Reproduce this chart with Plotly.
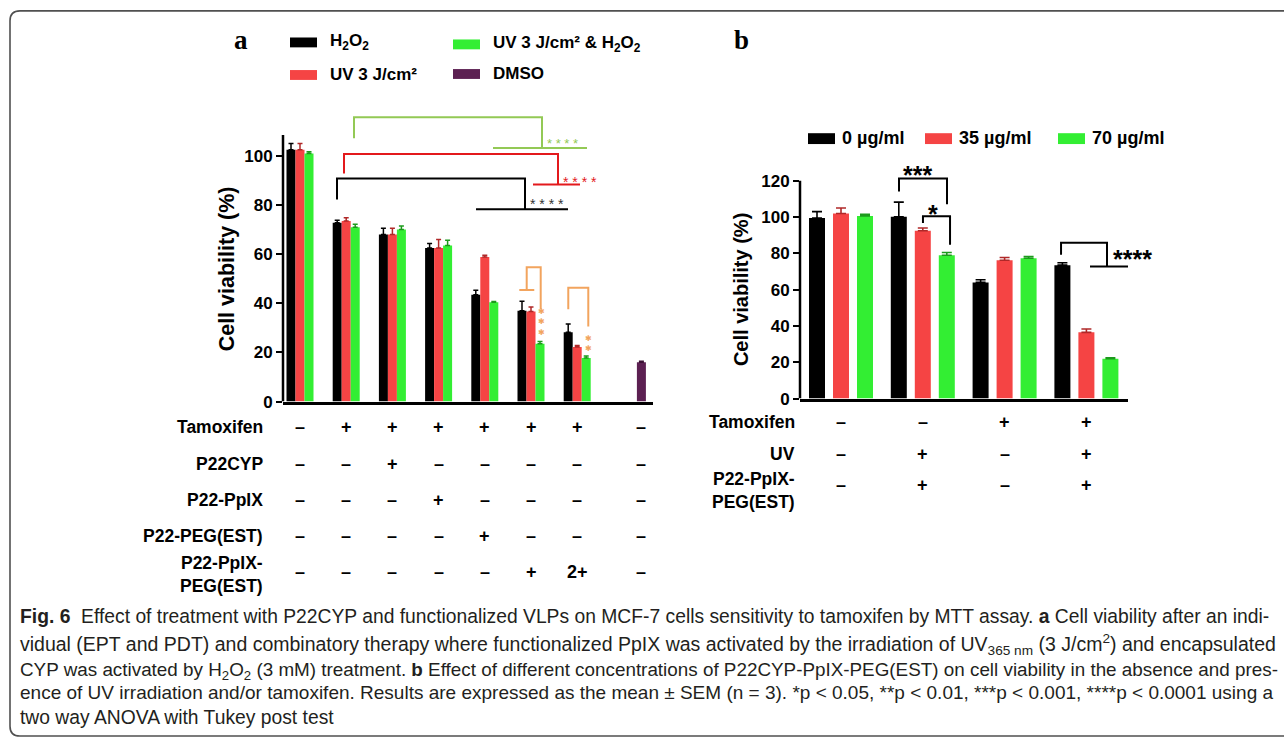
import plotly.graph_objects as go

W, H = 1284, 749

# ---------------- Panel a data ----------------
a_groups = [1, 2, 3, 4, 5, 6, 7]
a_dmso_group = [8]
a_h2o2 = [102.5, 72.8, 68.0, 62.5, 43.5, 37.0, 28.2]
a_h2o2_err = [2.5, 1.0, 2.5, 1.8, 1.8, 3.8, 3.4]
a_uv = [102.5, 73.5, 68.0, 62.5, 58.8, 36.7, 22.2]
a_uv_err = [2.5, 1.3, 2.5, 3.5, 0.8, 1.8, 0.6]
a_uv_h2o2 = [101.0, 71.0, 70.0, 63.5, 40.4, 23.5, 17.7]
a_uv_h2o2_err = [0.7, 1.2, 1.5, 2.2, 0.3, 1.0, 0.8]
a_dmso = [16.0]
a_dmso_err = [0.4]
a_yticks = [0, 20, 40, 60, 80, 100]
a_legend = ["H<sub>2</sub>O<sub>2</sub>", "UV 3 J/cm²",
            "UV 3 J/cm² & H<sub>2</sub>O<sub>2</sub>", "DMSO"]
a_row_labels = ["Tamoxifen", "P22CYP", "P22-PpIX", "P22-PEG(EST)", "P22-PpIX-<br>PEG(EST)"]
a_table = [
    ["–", "+", "+", "+", "+", "+", "+", "–"],
    ["–", "–", "+", "–", "–", "–", "–", "–"],
    ["–", "–", "–", "+", "–", "–", "–", "–"],
    ["–", "–", "–", "–", "+", "–", "–", "–"],
    ["–", "–", "–", "–", "–", "+", "2+", "–"],
]

# ---------------- Panel b data ----------------
b_groups = [1, 2, 3, 4]
b_0 = [99.5, 100.2, 64.0, 73.5]
b_0_err = [3.5, 8.0, 1.5, 1.3]
b_35 = [102.0, 92.5, 76.2, 36.5]
b_35_err = [3.0, 1.5, 1.5, 1.8]
b_70 = [100.6, 79.0, 77.3, 22.0]
b_70_err = [0.9, 1.5, 1.0, 0.5]
b_yticks = [0, 20, 40, 60, 80, 100, 120]
b_legend = ["0 µg/ml", "35 µg/ml", "70 µg/ml"]
b_row_labels = ["Tamoxifen", "UV", "P22-PpIX-<br>PEG(EST)"]
b_table = [
    ["–", "–", "+", "+"],
    ["–", "+", "–", "+"],
    ["–", "+", "–", "+"],
]

caption_lines = [
    "<b>Fig. 6</b>\u00a0 Effect of treatment with P22CYP and functionalized VLPs on MCF-7 cells sensitivity to tamoxifen by MTT assay. <b>a</b> Cell viability after an indi-",
    "vidual (EPT and PDT) and combinatory therapy where functionalized PpIX was activated by the irradiation of UV<sub>365 nm</sub> (3 J/cm<sup>2</sup>) and encapsulated",
    "CYP was activated by H<sub>2</sub>O<sub>2</sub> (3 mM) treatment. <b>b</b> Effect of different concentrations of P22CYP-PpIX-PEG(EST) on cell viability in the absence and pres-",
    "ence of UV irradiation and/or tamoxifen. Results are expressed as the mean ± SEM (n = 3). *p &lt; 0.05, **p &lt; 0.01, ***p &lt; 0.001, ****p &lt; 0.0001 using a",
    "two way ANOVA with Tukey post test",
]

# ---------------- styles ----------------
BLACK = "#000000"
RED = "#f54444"
GREEN = "#33ee33"
PURPLE = "#5c2052"
ERR = ["#000000", "#b02828", "#1c9a1c", "#3a1034"]
LGREEN = "#93c955"
BRED = "#e3191c"
ORANGE = "#f2a45e"
SANS = "Liberation Sans, Arial, sans-serif"
SERIF = "Liberation Serif, Times New Roman, serif"
CAPFONT = "Liberation Sans, Arial, sans-serif"


def px(x):
    return x / W


def py(y):
    return 1 - y / H


# axis geometry (pixels)
A_X0, A_DX, A_LEFT, A_RIGHT = 300.0, 46.2, 283.0, 653.0
A_Y0, A_DY, A_YMAX = 407.0, 2.49, 120.0
B_X0, B_DX, B_LEFT, B_RIGHT = 841.0, 81.8, 800.0, 1128.0
B_Y0, B_DY, B_YMAX = 404.0, 1.84, 135.0

fig = go.Figure()

# ---------------- Panel a bars ----------------
wa = 9.0 / A_DX
a_series = [(a_groups, a_h2o2, a_h2o2_err, BLACK),
            (a_groups, a_uv, a_uv_err, RED),
            (a_groups, a_uv_h2o2, a_uv_h2o2_err, GREEN),
            (a_dmso_group, a_dmso, a_dmso_err, PURPLE)]
for k, (xs, vals, errs, col) in enumerate(a_series):
    fig.add_trace(go.Bar(
        x=xs, y=vals, width=wa, offset=(k - 1.5) * wa,
        marker=dict(color=col, line=dict(width=0)),
        error_y=dict(type="data", array=errs, arrayminus=[0] * len(errs), symmetric=False,
                     color=ERR[k], thickness=1.5, width=2.5),
        xaxis="x", yaxis="y", showlegend=False, name=a_legend[k]))

# ---------------- Panel b bars ----------------
wb = 16.0 / B_DX
sb = 24.0 / B_DX
b_series = [(b_0, b_0_err, BLACK), (b_35, b_35_err, RED), (b_70, b_70_err, GREEN)]
for k, (vals, errs, col) in enumerate(b_series):
    fig.add_trace(go.Bar(
        x=b_groups, y=vals, width=wb, offset=(k - 1) * sb - wb / 2,
        marker=dict(color=col, line=dict(width=0)),
        error_y=dict(type="data", array=errs, arrayminus=[0] * len(errs), symmetric=False,
                     color=ERR[k], thickness=1.6, width=5),
        xaxis="x2", yaxis="y2", showlegend=False, name=b_legend[k]))

shapes = []
annotations = []


def note(text, x, y, size, xref="paper", yref="paper", xanchor="center", yanchor="middle",
         family=SANS, color=BLACK, **kw):
    annotations.append(dict(text=text, x=x, y=y, xref=xref, yref=yref, xanchor=xanchor,
                            yanchor=yanchor, showarrow=False,
                            font=dict(family=family, size=size, color=color), **kw))


# y-axis lines
shapes.append(dict(type="line", xref="x domain", yref="y", x0=0, x1=0, y0=0, y1=108.5,
                   line=dict(color=BLACK, width=2.5)))
shapes.append(dict(type="line", xref="x2 domain", yref="y2", x0=0, x1=0, y0=0, y1=120,
                   line=dict(color=BLACK, width=2.5)))


def path(segments):
    s = ""
    for seg in segments:
        s += "M %f,%f " % seg[0]
        for p in seg[1:]:
            s += "L %f,%f " % p
    return s


# significance brackets panel a
a_brackets = [
    ([[(2.169, 107.2), (2.169, 115.7), (6.238, 115.7), (6.238, 103.2)],
      [(5.177, 103.2), (7.212, 103.2)]], LGREEN),
    ([[(1.952, 92.8), (1.952, 100.8), (6.584, 100.8), (6.584, 88.4)],
      [(6.043, 88.4), (7.061, 88.4)]], BRED),
    ([[(1.801, 82.3), (1.801, 90.8), (5.870, 90.8), (5.870, 78.3)],
      [(4.810, 78.3), (6.801, 78.3)]], BLACK),
    ([[(5.907, 45.4), (5.907, 54.7), (6.210, 54.7), (6.210, 37.6)],
      [(5.747, 45.4), (6.071, 45.4)]], ORANGE),
    ([[(6.807, 37.6), (6.807, 46.3), (7.240, 46.3), (7.240, 30.6)]], ORANGE),
]
for segs, col in a_brackets:
    shapes.append(dict(type="path", xref="x", yref="y", path=path(segs),
                       line=dict(color=col, width=2)))

a_stars = [("* * * *", 6.69, 105.2, LGREEN, 13),
           ("* * * *", 7.06, 89.4, BRED, 14),
           ("* * * *", 6.346, 80.6, "#333333", 14)]
for t, x, y, col, sz in a_stars:
    note(t, x, y, sz, xref="x", yref="y", color=col)
a_stack = [(6.232, [36.8, 32.5, 28.2]), (7.24, [25.6, 21.4])]
for x, ys in a_stack:
    for y in ys:
        note("✱", x, y, 8, xref="x", yref="y", color=ORANGE, family="DejaVu Sans, sans-serif")

# significance brackets panel b
b_brackets = [
    [[(1.709, 114.1), (1.709, 121.2), (2.296, 121.2), (2.296, 107.1)]],
    [[(2.002, 96.7), (2.002, 100.5), (2.333, 100.5), (2.333, 84.8)]],
    [[(3.690, 79.3), (3.690, 85.9), (4.252, 85.9), (4.252, 72.8)],
     [(4.044, 72.8), (4.509, 72.8)]],
]
for segs in b_brackets:
    shapes.append(dict(type="path", xref="x2", yref="y2", path=path(segs),
                       line=dict(color=BLACK, width=2)))
b_stars = [("***", 1.941, 123.0, "center"), ("*", 2.125, 101.5, "center"),
           ("****", 4.30, 77.0, "left")]
for t, x, y, anc in b_stars:
    note("<b>%s</b>" % t, x, y, 25, xref="x2", yref="y2", xanchor=anc)

# y-axis titles
note("<b>Cell viability (%)</b>", px(227), py(273), 21.5, textangle=-90)
note("<b>Cell viability (%)</b>", px(741), py(294), 20, textangle=-90)

# panel letters
note("<b>a</b>", px(241), py(41), 27, family=SERIF)
note("<b>b</b>", px(741), py(41), 27, family=SERIF)

# legend panel a (2 x 2)
a_cols = [BLACK, RED, GREEN, PURPLE]
a_leg_pos = [(290, 43), (290, 76), (453, 45), (453, 75)]
for (lx, ly), name, col in zip(a_leg_pos, a_legend, a_cols):
    shapes.append(dict(type="rect", xref="paper", yref="paper", x0=px(lx), x1=px(lx + 27),
                       y0=py(ly + 5), y1=py(ly - 5), fillcolor=col, line=dict(width=0)))
    note("<b>%s</b>" % name, px(lx + 38), py(ly), 17, xanchor="left")

# legend panel b
b_cols = [BLACK, RED, GREEN]
b_leg_x = [808, 925, 1058]
for lx, name, col in zip(b_leg_x, b_legend, b_cols):
    shapes.append(dict(type="rect", xref="paper", yref="paper", x0=px(lx), x1=px(lx + 27),
                       y0=py(146), y1=py(135), fillcolor=col, line=dict(width=0)))
    note("<b>%s</b>" % name, px(lx + 32), py(140), 18, xanchor="left")

# table panel a
a_row_y = [433, 470, 507, 543, 580]
a_label_y = [433, 470, 507, 543, 582]
a_col_x = a_groups + [a_dmso_group[0] + 2 * wa]
for r, lab in enumerate(a_row_labels):
    note("<b>%s</b>" % lab, px(265), py(a_label_y[r]), 17.5, xanchor="right", align="right")
    for c, sym in enumerate(a_table[r]):
        note("<b>%s</b>" % sym, a_col_x[c], py(a_row_y[r]), 18, xref="x")

# table panel b
b_row_y = [428, 460, 492]
b_label_y = [428, 460, 497]
for r, lab in enumerate(b_row_labels):
    note("<b>%s</b>" % lab, px(797), py(b_label_y[r]), 17.5, xanchor="right", align="right")
    for c, sym in enumerate(b_table[r]):
        note("<b>%s</b>" % sym, b_groups[c], py(b_row_y[r]), 18, xref="x2")

# caption: per-line size so each line ends where the reference's justified line does
cap_y = [625, 651, 676, 702, 727]
cap_shift = [0, -2, -4, 0, 0]
cap_size = [19.3, 19.5, 18.85, 19.0, 19.3]
for t, y, s, fs in zip(caption_lines, cap_y, cap_shift, cap_size):
    note(t, px(18), py(y), fs, xanchor="left", family=CAPFONT, color="#231f20", yshift=s)

# rounded frame
r = 10
L, T, B = 10.0, 11.0, 746.0
frame = ("M %f,%f L %f,%f Q %f,%f %f,%f L %f,%f Q %f,%f %f,%f L %f,%f" % (
    1.05, py(T), px(L + r), py(T), px(L), py(T), px(L), py(T + r),
    px(L), py(B - r), px(L), py(B), px(L + r), py(B), 1.05, py(B)))
shapes.append(dict(type="path", xref="paper", yref="paper", path=frame,
                   line=dict(color="#505050", width=1.6)))

tickfont = dict(family=SANS, size=17, color=BLACK, weight="bold")
fig.update_layout(
    width=W, height=H, margin=dict(l=0, r=0, t=0, b=0),
    paper_bgcolor="white", plot_bgcolor="white", barmode="overlay",
    xaxis=dict(domain=[px(A_LEFT), px(A_RIGHT)],
               range=[1 + (A_LEFT - A_X0) / A_DX, 1 + (A_RIGHT - A_X0) / A_DX],
               showline=True, linecolor=BLACK, linewidth=2.5, ticks="", showticklabels=False,
               showgrid=False, zeroline=False, anchor="y", fixedrange=True),
    yaxis=dict(domain=[py(A_Y0), py(A_Y0 - A_YMAX * A_DY)], range=[0, A_YMAX],
               tickvals=a_yticks, ticks="outside", ticklen=6, tickwidth=2.2, tickcolor=BLACK,
               showline=False, showgrid=False, zeroline=False, tickfont=tickfont, anchor="x",
               fixedrange=True),
    xaxis2=dict(domain=[px(B_LEFT), px(B_RIGHT)],
                range=[1 + (B_LEFT - B_X0) / B_DX, 1 + (B_RIGHT - B_X0) / B_DX],
                showline=True, linecolor=BLACK, linewidth=2.5, ticks="", showticklabels=False,
                showgrid=False, zeroline=False, anchor="y2", fixedrange=True),
    yaxis2=dict(domain=[py(B_Y0), py(B_Y0 - B_YMAX * B_DY)], range=[0, B_YMAX],
                tickvals=b_yticks, ticks="outside", ticklen=6, tickwidth=2.2, tickcolor=BLACK,
                showline=False, showgrid=False, zeroline=False, tickfont=tickfont, anchor="x2",
                fixedrange=True),
    shapes=shapes, annotations=annotations, showlegend=False,
)

fig.write_html("out.html", config={"displayModeBar": False},
               post_script="document.body.style.margin='0px';document.body.style.overflow='hidden';")
